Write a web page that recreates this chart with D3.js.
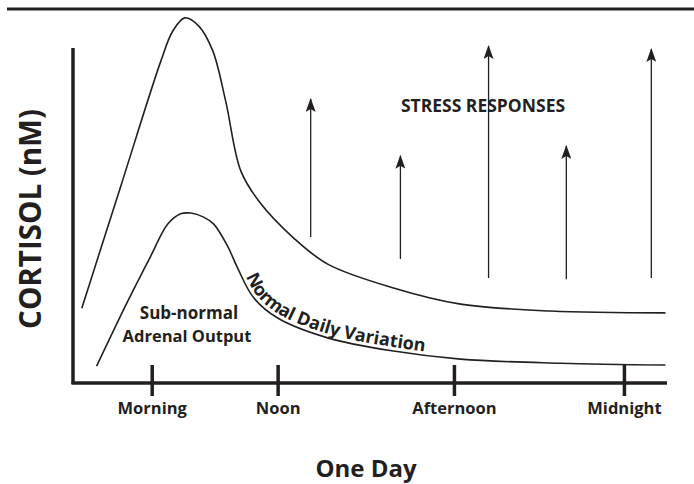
<!DOCTYPE html>
<html>
<head>
<meta charset="utf-8">
<script src="https://cdn.jsdelivr.net/npm/d3@7"></script>
<style>
  body { margin: 0; background: #fff; }
  text { font-family: "Open Sans", "DejaVu Sans", sans-serif; font-weight: 700; fill: #231f20; }
</style>
</head>
<body>
<svg id="chart" width="694" height="484"></svg>
<script>
// hours of the day, cortisol in arbitrary units (0-100)
var tickHours = [8, 12, 17.6, 23];
var tickLabels = ["Morning", "Noon", "Afternoon", "Midnight"];

var normalHours = [5.78, 7.02, 8.29, 8.67, 9.05, 9.49, 9.94, 10.35, 10.83, 11.4, 12.51, 13.59, 15.68, 17.81, 20.67, 24.32];
var normalLevel = [20.4, 53.7, 87.7, 95.9, 99.5, 97.3, 90.5, 76.8, 57.8, 49.6, 39.5, 32.4, 25.9, 21.5, 19.6, 19.1];

var lowHours = [6.25, 7.24, 7.97, 8.51, 8.92, 9.24, 9.65, 9.97, 10.41, 10.73, 11.24, 12, 13.59, 15.68, 17.81, 20.98, 24.32];
var lowLevel = [4.6, 22.3, 34.6, 43.3, 46.1, 46.3, 45.2, 43.3, 37.3, 31.3, 23.2, 17.7, 12.3, 8.7, 6.5, 5.4, 4.9];

var stressHours = [13.05, 15.9, 18.7, 21.17, 23.87];
var stressFrom = [39.8, 33.8, 28.6, 28.3, 28.6];
var stressTo = [77.4, 61.9, 91.8, 64.6, 91.0];

var svg = d3.select("#chart"),
  width = +svg.attr("width"),
  height = +svg.attr("height");

var x = d3.scaleLinear().domain([5.5, 24.4]).range([73, 668]);
var y = d3.scaleLinear().domain([0, 100]).range([383, 16]);

// rule along the top (cut-off figure caption)
svg.append("line")
  .attr("x1", 7).attr("x2", width)
  .attr("y1", 9).attr("y2", 9)
  .attr("stroke", "#231f20").attr("stroke-width", 3);

// arrow head, drawn pointing along +x so orient=auto turns it up the line
svg.append("defs").append("marker")
  .attr("id", "head")
  .attr("viewBox", "0 0 14 10")
  .attr("refX", 13).attr("refY", 5)
  .attr("markerWidth", 14).attr("markerHeight", 10)
  .attr("markerUnits", "userSpaceOnUse")
  .attr("orient", "auto")
  .append("path")
  .attr("d", "M14,5 L0,10 L3,5 L0,0 Z")
  .attr("fill", "#231f20");

var line = d3.line()
  .x(function (d) { return x(d[0]); })
  .y(function (d) { return y(d[1]); })
  .curve(d3.curveCatmullRom.alpha(0.5));

svg.append("path")
  .attr("d", line(d3.zip(normalHours, normalLevel)))
  .attr("fill", "none").attr("stroke", "#231f20").attr("stroke-width", 1.6);

var low = svg.append("path")
  .attr("id", "lowCurve")
  .attr("d", line(d3.zip(lowHours, lowLevel)))
  .attr("fill", "none").attr("stroke", "#231f20").attr("stroke-width", 1.6);

// stress arrows
svg.append("g")
  .selectAll("line")
  .data(stressHours)
  .enter()
  .append("line")
  .attr("x1", function (d) { return x(d); })
  .attr("x2", function (d) { return x(d); })
  .attr("y1", function (d, i) { return y(stressFrom[i]); })
  .attr("y2", function (d, i) { return y(stressTo[i]); })
  .attr("stroke", "#231f20").attr("stroke-width", 1.3)
  .attr("marker-end", "url(#head)");

// axes
svg.append("line")
  .attr("x1", 73).attr("x2", 73)
  .attr("y1", 48).attr("y2", 384)
  .attr("stroke", "#231f20").attr("stroke-width", 3.5);

var xAxis = svg.append("g")
  .attr("transform", "translate(0,383)")
  .call(d3.axisBottom(x).tickValues(tickHours)
    .tickFormat(function (d, i) { return tickLabels[i]; })
    .tickSizeOuter(0).tickSizeInner(13).tickPadding(6));
xAxis.select(".domain")
  .attr("d", "M71.5,0H667")
  .attr("stroke", "#231f20").attr("stroke-width", 3.5);
xAxis.selectAll(".tick line")
  .attr("y1", -18)
  .attr("stroke", "#231f20").attr("stroke-width", 3.5);
xAxis.selectAll(".tick text")
  .attr("font-size", 16.5).attr("fill", "#231f20")
  .style("font-family", null);

// labels
svg.append("text")
  .attr("x", 366).attr("y", 477)
  .attr("text-anchor", "middle").attr("font-size", 24)
  .text("One Day");

svg.append("text")
  .attr("transform", "translate(41,219) rotate(-90)")
  .attr("text-anchor", "middle").attr("font-size", 29.5)
  .text("CORTISOL (nM)");

svg.append("text")
  .attr("x", 483).attr("y", 112)
  .attr("text-anchor", "middle").attr("font-size", 17.5)
  .text("STRESS RESPONSES");

svg.append("text")
  .attr("x", 189).attr("y", 319)
  .attr("text-anchor", "middle").attr("font-size", 17)
  .text("Sub-normal");
svg.append("text")
  .attr("x", 187).attr("y", 342)
  .attr("text-anchor", "middle").attr("font-size", 16.5)
  .text("Adrenal Output");

// label riding on the lower curve
var node = low.node(), total = node.getTotalLength(), start = 0;
for (var l = 0; l < total; l += 1) {
  if (node.getPointAtLength(l).x >= 242) { start = l; break; }
}
svg.append("text")
  .attr("font-size", 18)
  .attr("dy", -4)
  .append("textPath")
  .attr("href", "#lowCurve")
  .attr("startOffset", start)
  .text("Normal Daily Variation");
</script>
</body>
</html>
